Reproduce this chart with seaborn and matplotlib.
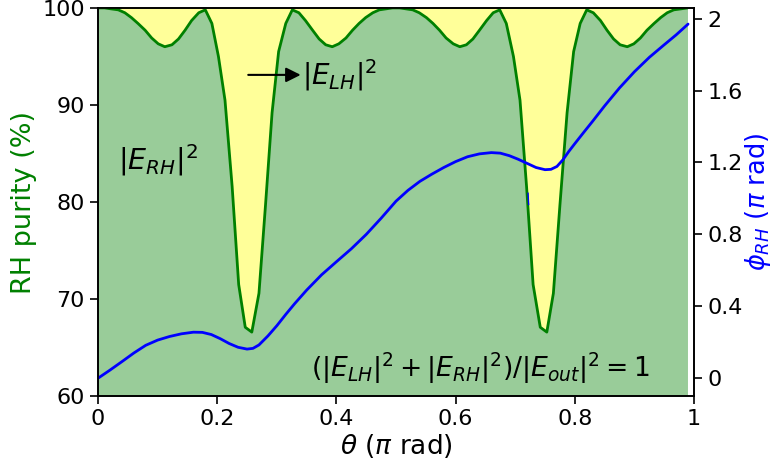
import numpy as np
import matplotlib
matplotlib.use('Agg')
import matplotlib.pyplot as plt
import seaborn as sns

# theta samples (pi rad) for the RH purity curve
theta = [0.000, 0.011, 0.022, 0.034, 0.045, 0.056, 0.067, 0.079, 0.090, 0.101,
         0.112, 0.124, 0.135, 0.146, 0.157, 0.169, 0.180, 0.191, 0.202, 0.213,
         0.225, 0.236, 0.247, 0.258, 0.270, 0.281, 0.292, 0.303, 0.315, 0.326,
         0.337, 0.348, 0.360, 0.371, 0.382, 0.393, 0.404, 0.416, 0.427, 0.438,
         0.449, 0.461, 0.472, 0.483, 0.494, 0.506, 0.517, 0.528, 0.539, 0.551,
         0.562, 0.573, 0.584, 0.596, 0.607, 0.618, 0.629, 0.640, 0.652, 0.663,
         0.674, 0.685, 0.697, 0.708, 0.719, 0.730, 0.742, 0.753, 0.764, 0.775,
         0.787, 0.798, 0.809, 0.820, 0.831, 0.843, 0.854, 0.865, 0.876, 0.888,
         0.899, 0.910, 0.921, 0.933, 0.944, 0.955, 0.966, 0.978, 0.989]
purity = [100.0, 100.0, 99.9, 99.8, 99.5, 99.0, 98.4, 97.7, 96.9, 96.3,
          96.0, 96.2, 96.8, 97.7, 98.7, 99.5, 99.8, 98.4, 95.0, 90.5,
          81.6, 71.5, 67.1, 66.6, 70.6, 79.7, 89.2, 95.5, 98.4, 99.8,
          99.5, 98.7, 97.7, 96.8, 96.2, 96.0, 96.3, 96.9, 97.7, 98.4,
          99.0, 99.5, 99.8, 99.9, 100.0, 100.0, 99.9, 99.8, 99.5, 99.0,
          98.4, 97.7, 96.9, 96.3, 96.0, 96.2, 96.8, 97.7, 98.7, 99.5,
          99.8, 98.4, 95.0, 90.5, 81.6, 71.5, 67.1, 66.6, 70.6, 79.7,
          89.2, 95.5, 98.4, 99.8, 99.5, 98.7, 97.7, 96.8, 96.2, 96.0,
          96.3, 96.9, 97.7, 98.4, 99.0, 99.5, 99.8, 99.9, 100.0]

# phase of the RH component (pi rad)
phase_theta = [0.0, 0.02, 0.04, 0.06, 0.08, 0.10, 0.12, 0.14, 0.16, 0.175,
               0.19, 0.205, 0.22, 0.235, 0.25, 0.26, 0.27, 0.285, 0.30, 0.315,
               0.33, 0.35, 0.375, 0.40, 0.425, 0.45, 0.475, 0.50, 0.52, 0.54,
               0.56, 0.58, 0.60, 0.62, 0.64, 0.66, 0.675, 0.69, 0.705, 0.72,
               0.735, 0.75, 0.76, 0.77, 0.78, 0.79, 0.80, 0.815, 0.83, 0.85,
               0.875, 0.90, 0.925, 0.95, 0.97, 0.99]
phase = [0.0, 0.045, 0.092, 0.14, 0.183, 0.212, 0.232, 0.247, 0.256, 0.255,
         0.243, 0.22, 0.193, 0.172, 0.162, 0.166, 0.185, 0.235, 0.292, 0.355,
         0.415, 0.49, 0.575, 0.648, 0.72, 0.80, 0.89, 0.985, 1.045, 1.095,
         1.135, 1.172, 1.205, 1.232, 1.248, 1.255, 1.252, 1.238, 1.218, 1.195,
         1.172, 1.16, 1.162, 1.178, 1.215, 1.262, 1.305, 1.368, 1.43, 1.515,
         1.615, 1.705, 1.785, 1.855, 1.91, 1.97]
# small stray phase segment visible near theta = 0.72
stub_theta = [0.7215, 0.7225]
stub_phase = [1.03, 0.965]

x_ticks = [0, 0.2, 0.4, 0.6, 0.8, 1]
x_tick_labels = ['0', '0.2', '0.4', '0.6', '0.8', '1']
left_ticks = [60, 70, 80, 90, 100]
right_ticks = [0, 0.4, 0.8, 1.2, 1.6, 2]
right_tick_labels = ['0', '0.4', '0.8', '1.2', '1.6', '2']

sns.set_style('ticks', {'axes.edgecolor': 'black', 'xtick.color': 'black',
                        'ytick.color': 'black', 'text.color': 'black',
                        'axes.labelcolor': 'black'})
plt.rcParams['font.family'] = ['DejaVu Sans']
plt.rcParams['mathtext.fontset'] = 'dejavusans'
plt.rcParams['text.color'] = 'black'

fig = plt.figure(figsize=(7.72, 4.65), dpi=100)
ax = fig.add_axes([0.127, 0.148, 0.772, 0.835])
ax.fill_between(theta, 60, purity, color='#99cc99', lw=0, zorder=1)
ax.fill_between(theta, purity, 100, color='#ffff99', lw=0, zorder=1)
sns.lineplot(x=theta, y=purity, ax=ax, color='green', lw=2, zorder=3)
ax.set_xlim(0, 1)
ax.set_ylim(60, 100)
ax.set_xticks(x_ticks)
ax.set_xticklabels(x_tick_labels)
ax.set_yticks(left_ticks)
ax.tick_params(labelsize=16, length=6, width=1.2, direction='out',
               labelcolor='black')
ax.set_xlabel(r'$\theta$ ($\pi$ rad)', fontsize=19, labelpad=2, color='black')
ax.set_ylabel('RH purity (%)', fontsize=19.5, color='green', labelpad=4)

ax.text(0.034, 84.3, r'$|E_{RH}|^2$', fontsize=20.5, va='center', ha='left',
        color='black')
ax.annotate('', xy=(0.340, 93.1), xytext=(0.252, 93.1),
            arrowprops=dict(arrowstyle='-|>', color='black', lw=1.5,
                            mutation_scale=22, shrinkA=0, shrinkB=0))
ax.text(0.342, 93.1, r'$|E_{LH}|^2$', fontsize=20, va='center', ha='left',
        color='black')
ax.text(0.357, 62.9, r'$(|E_{LH}|^2+|E_{RH}|^2)/|E_{out}|^2=1$',
        fontsize=19.2, va='center', ha='left', color='black')

ax2 = ax.twinx()
sns.lineplot(x=phase_theta, y=phase, ax=ax2, color='blue', lw=2)
sns.lineplot(x=stub_theta, y=stub_phase, ax=ax2, color='blue', lw=1)
ax2.set_ylim(-0.1, 2.06)
ax2.set_yticks(right_ticks)
ax2.set_yticklabels(right_tick_labels)
ax2.tick_params(labelsize=16, length=6, width=1.2, direction='out',
                labelcolor='black')
ax2.set_ylabel(r'$\phi_{RH}$ ($\pi$ rad)', fontsize=18.5, color='blue')
ax2.yaxis.set_label_coords(1.083, 0.5)
for a in (ax, ax2):
    for s in a.spines.values():
        s.set_color('black')
        s.set_linewidth(1.2)

fig.savefig('out.png', dpi=100)
